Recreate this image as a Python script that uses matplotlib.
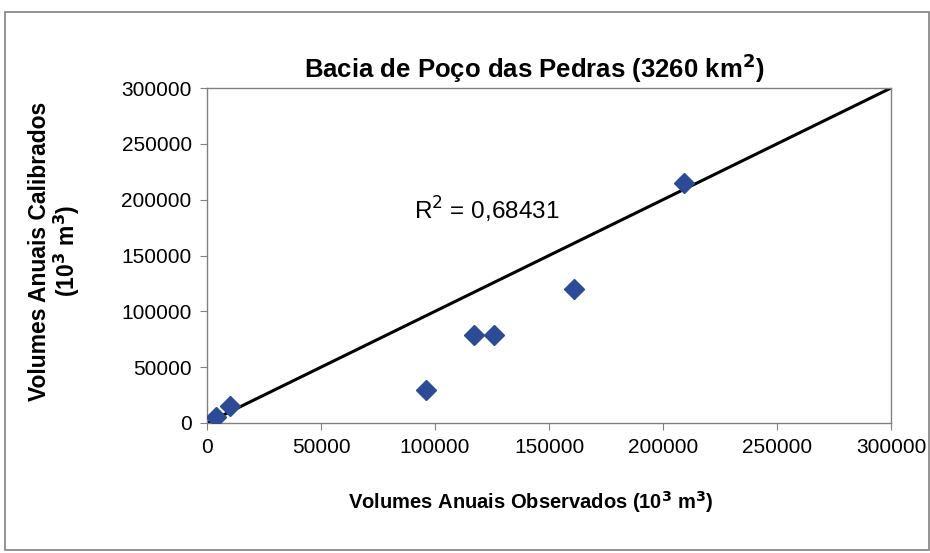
import matplotlib.pyplot as plt
from matplotlib.patches import Rectangle

plt.rcParams['font.family'] = ['Liberation Sans', 'DejaVu Sans']

# Volumes anuais (10^3 m^3)
observados = [4000, 10000, 96000, 117000, 126000, 161000, 209000]
calibrados = [5000, 15000, 30000, 79000, 79000, 120000, 215000]
ticks = [0, 50000, 100000, 150000, 200000, 250000, 300000]
r2_label = 'R$^2$ = 0,68431'

W, H = 930, 553
fig = plt.figure(figsize=(W / 100, H / 100), dpi=100)
ax = fig.add_axes([207 / W, 1 - 423 / H, 684 / W, 335 / H])

# moldura externa do gráfico
fig.patches.append(Rectangle((5 / W, 3 / H), 1 - 6 / W, 1 - 15 / H,
                             transform=fig.transFigure, fill=False,
                             edgecolor='#808080', linewidth=1.2))

# linha 1:1
ax.plot([0, 300000], [0, 300000], color='black', linewidth=2.2, zorder=2)
ax.plot(observados, calibrados, linestyle='none', marker='D', markersize=10,
        color='#2c4a96', markeredgecolor='#2c4a96', zorder=3)

ax.text(91000, 191000, r2_label, fontsize=17.5, va='center', ha='left')

ax.set_xlim(0, 300000)
ax.set_ylim(0, 300000)
ax.set_xticks(ticks)
ax.set_yticks(ticks)
ax.tick_params(labelsize=15, length=5, color='#808080', pad=6)
for s in ax.spines.values():
    s.set_color('#808080')
    s.set_linewidth(1.0)

fig.text(534 / W, 1 - 68 / H, 'Bacia de Poço das Pedras (3260 km$^\\mathbf{2}$)',
         fontsize=18.5, fontweight='bold', ha='center', va='center')
fig.text(531 / W, 1 - 502 / H,
         'Volumes Anuais Observados (10$^\\mathbf{3}$ m$^\\mathbf{3}$)',
         fontsize=14.5, fontweight='bold', ha='center', va='center')
fig.text(55 / W, 1 - 251 / H,
         'Volumes Anuais Calibrados\n(10$^\\mathbf{3}$ m$^\\mathbf{3}$)',
         fontsize=16.5, fontweight='bold', ha='center', va='center',
         rotation=90, multialignment='center', linespacing=1.05)

fig.savefig('out.png', dpi=100, facecolor='white')
